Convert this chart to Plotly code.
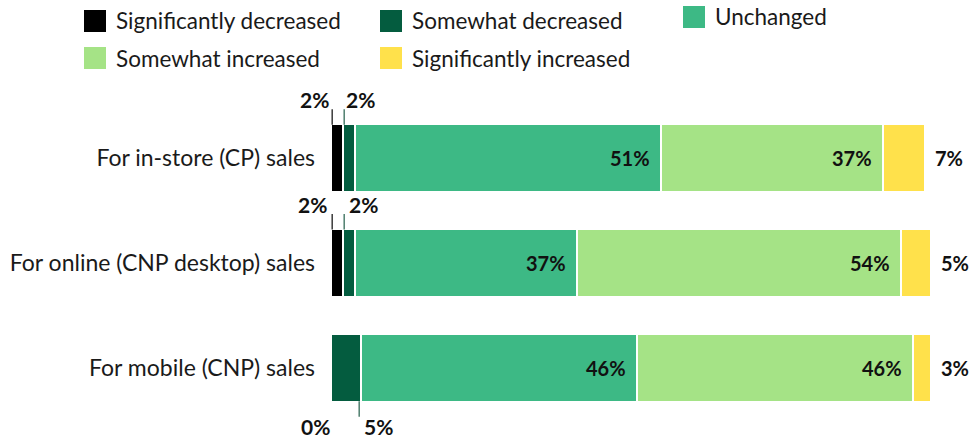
import plotly.graph_objects as go

# Survey responses (% of merchants) by sales channel
categories = [
    "For in-store (CP) sales",
    "For online (CNP desktop) sales",
    "For mobile (CNP) sales",
]
series_names = [
    "Significantly decreased",
    "Somewhat decreased",
    "Unchanged",
    "Somewhat increased",
    "Significantly increased",
]
sig_decreased = [2, 2, 0]
some_decreased = [2, 2, 5]
unchanged = [51, 37, 46]
some_increased = [37, 54, 46]
sig_increased = [7, 5, 3]

series_values = [sig_decreased, some_decreased, unchanged, some_increased, sig_increased]
colors = ["#000000", "#045c3f", "#3db985", "#a5e386", "#ffe14b"]

FONT = "Lato"
W, H = 977, 438
M_L, M_R, M_T, M_B = 331, 46, 106, 18
PW, PH = W - M_L - M_R, H - M_T - M_B

fig = go.Figure()
for name, vals, col in zip(series_names, series_values, colors):
    fig.add_trace(go.Bar(
        y=categories, x=vals, name=name, orientation="h",
        marker=dict(color=col, line=dict(color="white", width=1.2)),
        showlegend=False, hoverinfo="skip",
    ))

# cumulative segment bounds per row
starts, ends = [], []
for r in range(len(categories)):
    acc = 0
    s_row, e_row = [], []
    for vals in series_values:
        s_row.append(acc)
        acc += vals[r]
        e_row.append(acc)
    starts.append(s_row)
    ends.append(e_row)

annotations = []
shapes = []
bold = dict(family=FONT, size=20, color="#111111", weight=700)

# labels inside the two large segments
for r, cat in enumerate(categories):
    for k in (2, 3):
        annotations.append(dict(
            x=ends[r][k], y=cat, xref="x", yref="y", text=f"{series_values[k][r]}%",
            showarrow=False, xanchor="right", yanchor="middle", xshift=-9, font=bold,
        ))
    # significantly increased label, right of the bar
    annotations.append(dict(
        x=ends[r][4], y=cat, xref="x", yref="y", text=f"{series_values[4][r]}%",
        showarrow=False, xanchor="left", yanchor="middle", xshift=8, font=bold,
    ))

# callouts for the thin decreased segments: (row, series, label anchor, side, leader line)
callouts = [
    (0, 0, "start", "right", 0, "above", True),
    (0, 1, "start", "left", 1, "above", True),
    (1, 0, "start", "right", -2, "above", True),
    (1, 1, "start", "left", 4, "above", True),
    (2, 0, "start", "right", 1, "below", False),
    (2, 1, "end", "left", 1, "below", True),
]
line_colors = ["#3a3a3a", "#4f7f6e"]
for r, k, where, anchor, xs, side, has_line in callouts:
    x_lab = starts[r][k] if where == "start" else ends[r][k]
    sign = 1 if side == "above" else -1
    annotations.append(dict(
        x=x_lab, y=categories[r], xref="x", yref="y", text=f"{series_values[k][r]}%",
        showarrow=False, xanchor=anchor, yanchor="middle", xshift=xs,
        yshift=sign * 59, font=dict(bold, size=21),
    ))
    if has_line:
        x_line = starts[r][k] + 0.2 if where == "start" else ends[r][k] - 0.3
        shapes.append(dict(
            type="line", xref="x", yref="y", ysizemode="pixel", yanchor=categories[r],
            x0=x_line, x1=x_line, y0=sign * 33.5, y1=sign * 49,
            line=dict(color=line_colors[k], width=1.5),
        ))

# legend drawn as swatches + labels (pixel layout converted to paper units)
def px_x(p):
    return (p - M_L) / PW

def px_y(p):
    return (H - M_B - p) / PH

legend_items = [
    (0, 84, 10),
    (1, 380, 10),
    (2, 683, 6),
    (3, 84, 47),
    (4, 380, 47),
]
for k, lx, ly in legend_items:
    shapes.append(dict(
        type="rect", xref="paper", yref="paper",
        x0=px_x(lx), x1=px_x(lx + 22), y0=px_y(ly), y1=px_y(ly + 22),
        fillcolor=colors[k], line=dict(width=0),
    ))
    annotations.append(dict(
        x=px_x(lx + 30), y=px_y(ly + 11), xref="paper", yref="paper",
        text=series_names[k], showarrow=False, xanchor="left", yanchor="middle",
        font=dict(family=FONT, size=22.5, color="#1a1a1a"),
    ))

fig.update_layout(
    width=W, height=H,
    margin=dict(l=M_L, r=M_R, t=M_T, b=M_B, autoexpand=False),
    barmode="stack", bargap=0.36,
    plot_bgcolor="white", paper_bgcolor="white",
    font=dict(family=FONT, size=23, color="#1a1a1a"),
    xaxis=dict(range=[0, 100], visible=False, fixedrange=True, automargin=False),
    yaxis=dict(
        autorange="reversed", showgrid=False, zeroline=False, showline=False,
        ticks="", ticklabelstandoff=15, tickfont=dict(family=FONT, size=23, color="#1a1a1a"),
        fixedrange=True, automargin=False,
    ),
    annotations=annotations,
    shapes=shapes,
)

fig.write_html("out.html", config={"displayModeBar": False})
